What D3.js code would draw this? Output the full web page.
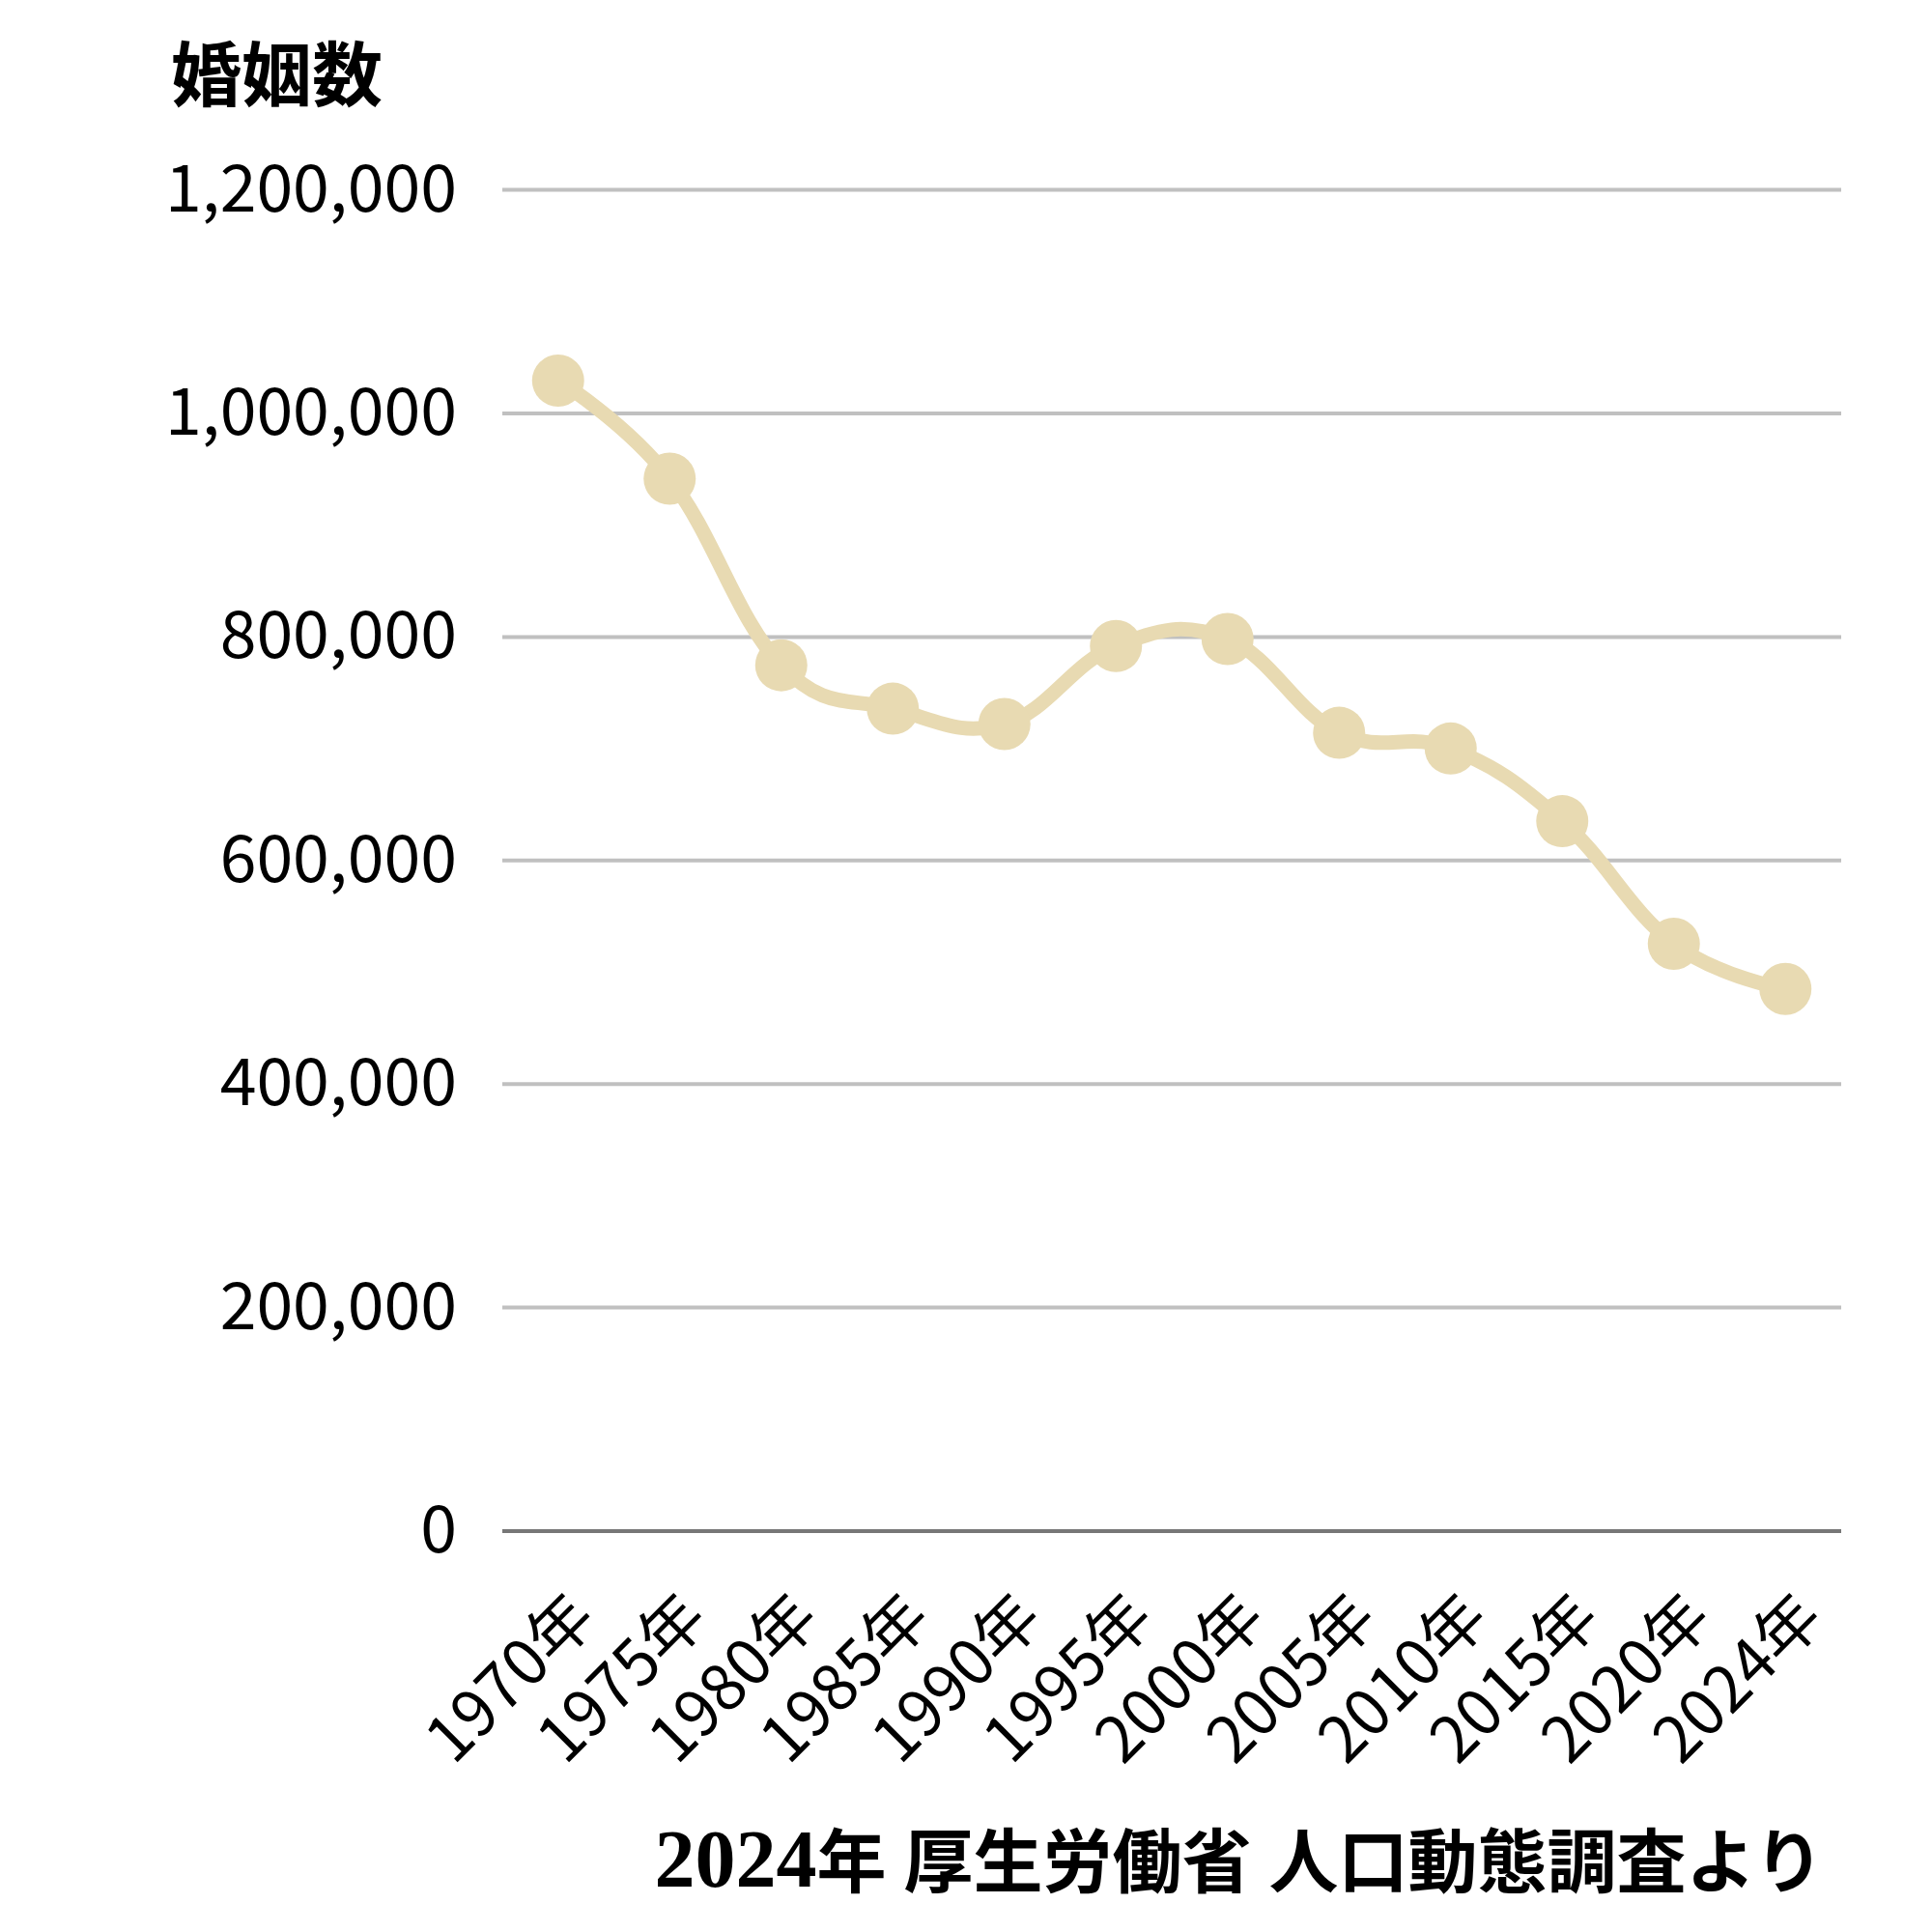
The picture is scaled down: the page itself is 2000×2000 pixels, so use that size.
<!DOCTYPE html>
<html>
<head>
<meta charset="utf-8">
<script src="https://cdn.jsdelivr.net/npm/d3@7"></script>
<style>
  body { margin: 0; background: #fff; }
  text { font-family: "Noto Sans CJK JP", "Noto Sans", sans-serif; fill: #000; }
</style>
</head>
<body>
<svg id="chart" width="2000" height="2000"></svg>
<script>
// data (厚生労働省 人口動態調査)
var years = ["1970年", "1975年", "1980年", "1985年", "1990年", "1995年",
             "2000年", "2005年", "2010年", "2015年", "2020年", "2024年"];
var marriages = [1029405, 941628, 774702, 735850, 722138, 791888,
                 798138, 714265, 700222, 635156, 525507, 485063];
var yTicks = [0, 200000, 400000, 600000, 800000, 1000000, 1200000];

var svg = d3.select("#chart");

var x = d3.scalePoint()
    .domain(years)
    .range([520, 1906])
    .padding(0.5);

var y = d3.scaleLinear()
    .domain([0, 1200000])
    .range([1585, 196.6]);

var fmt = d3.format(",");

// grid lines
svg.append("g")
    .selectAll("line")
    .data(yTicks)
    .enter().append("line")
    .attr("x1", 520)
    .attr("x2", 1906)
    .attr("y1", function(d) { return y(d); })
    .attr("y2", function(d) { return y(d); })
    .attr("stroke", function(d) { return d == 0 ? "#777777" : "#c0c0c0"; })
    .attr("stroke-width", 4);

// y tick labels
svg.append("g")
    .selectAll("text")
    .data(yTicks)
    .enter().append("text")
    .attr("x", 473)
    .attr("y", function(d) { return y(d) + 22; })
    .attr("text-anchor", "end")
    .attr("font-size", 68)
    .text(function(d) { return fmt(d); });

// x tick labels, rotated
svg.append("g")
    .selectAll("text")
    .data(years)
    .enter().append("text")
    .attr("transform", function(d) { return "translate(" + (x(d) + 42) + ",1678) rotate(-45)"; })
    .attr("text-anchor", "end")
    .attr("font-size", 66)
    .text(function(d) { return d; });

// line
var line = d3.line()
    .x(function(d, i) { return x(years[i]); })
    .y(function(d) { return y(d); })
    .curve(d3.curveCardinal.tension(-0.2));

svg.append("path")
    .datum(marriages)
    .attr("d", line)
    .attr("fill", "none")
    .attr("stroke", "#e8dab2")
    .attr("stroke-width", 15)
    .attr("stroke-linejoin", "round");

svg.append("g")
    .selectAll("circle")
    .data(marriages)
    .enter().append("circle")
    .attr("cx", function(d, i) { return x(years[i]); })
    .attr("cy", function(d) { return y(d); })
    .attr("r", 27)
    .attr("fill", "#e8dab2");

// title
svg.append("text")
    .attr("x", 177)
    .attr("y", 104)
    .attr("font-size", 73)
    .attr("font-weight", "bold")
    .text("婚姻数");

// source
var src = svg.append("text")
    .attr("x", 1888)
    .attr("y", 1953)
    .attr("text-anchor", "end")
    .attr("font-size", 72)
    .attr("font-weight", "bold")
    .style("font-family", "\"Liberation Serif\", \"Noto Sans CJK JP\", serif");
src.append("tspan").attr("font-size", 84).text("2024");
src.append("tspan").text("年 厚生労働省 人口動態調査より");
</script>
</body>
</html>
